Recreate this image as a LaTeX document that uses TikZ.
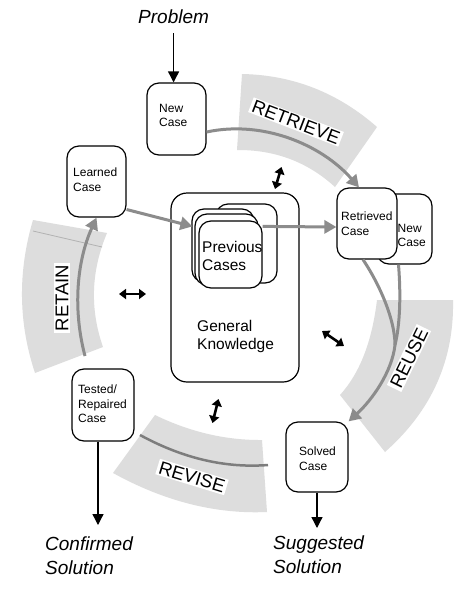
\documentclass[tikz,border=0pt]{standalone}
\usepackage{fontspec}
\setmainfont{Liberation Sans}
\usetikzlibrary{arrows.meta,calc}
\definecolor{bandfill}{RGB}{221,221,221}
\definecolor{arrgray}{RGB}{140,140,140}
\definecolor{linegray}{RGB}{125,125,125}
\begin{document}
\begin{tikzpicture}[x=1pt,y=-1pt,
  box/.style={draw=black,line width=1.2pt,rounded corners=12pt,fill=white,inner sep=0pt},
  smalltxt/.style={font=\fontsize{12}{14.5}\selectfont,align=left,inner sep=0pt,anchor=north west},
  midtxt/.style={font=\fontsize{15.5}{17.5}\selectfont,align=left,inner sep=0pt,anchor=north west},
  bigtxt/.style={font=\fontsize{19}{24}\selectfont\itshape,align=left,inner sep=0pt,anchor=north west},
  bandlbl/.style={fill=white,inner xsep=2pt,inner ysep=1.5pt,font=\fontsize{18.5}{20}\selectfont},
  grayarr/.style={draw=arrgray,line width=3pt,-{Triangle[width=13pt,length=12pt]}},
  grayline/.style={draw=arrgray,line width=3pt},
  blackarr/.style={draw=black,line width=1.3pt,-{Triangle[width=11pt,length=11pt]}},
  dblarr/.style={draw=black,line width=2.6pt,{Triangle[width=10pt,length=7pt]}-{Triangle[width=10pt,length=7pt]}}]
\useasboundingbox[fill=white] (0,0) rectangle (474,590);

% phase bands
\fill[bandfill] (242,74) .. controls (293,75) and (338,92.7) .. (377,127) -- (335,187) .. controls (307.7,162) and (275,149.7) .. (237,150) -- cycle;
\fill[bandfill] (453,300) .. controls (454.3,360) and (431.7,410.7) .. (385,452) -- (340,395) .. controls (359.7,373.3) and (372,341.7) .. (377,300) -- cycle;
\fill[bandfill] (155,415) .. controls (190,432) and (225.7,440.3) .. (262,440) -- (267,512) .. controls (215.7,514.3) and (164.3,501.3) .. (113,473) -- cycle;
\fill[bandfill] (33,220) .. controls (17.7,271.7) and (18.3,322.7) .. (35,373) -- (103,347) .. controls (89.7,309) and (91,271) .. (107,233) -- cycle;
\draw[gray!60,line width=0.8pt] (33,231) -- (102,247);
\draw[linegray,line width=2.5pt] (140,435) .. controls (182.7,458.3) and (225.3,468.3) .. (268,465);

% knowledge box with case base
\node[box,minimum width=128pt,minimum height=189pt,rounded corners=16pt] (knowledge) at (235,287.5) {};
\node[box,minimum width=61pt,minimum height=79pt] (prevback) at (246.5,243.5) {};
\node[box,minimum width=62pt,minimum height=73pt] (prevmidA) at (223,245.5) {};
\node[box,minimum width=63pt,minimum height=71pt] (prevmidB) at (226.5,249.5) {};
\node[box,minimum width=63pt,minimum height=67pt] (prev) at (230.5,254.5) {};
\node[midtxt] (prevtext) at (202,241.3) {Previous\\Cases};
\node[midtxt] (gktext) at (197,320.3) {General\\Knowledge};

% case boxes
\node[box,minimum width=59pt,minimum height=72pt] (newcase) at (176.5,119) {};
\node[smalltxt] (newcasetext) at (159,103.6) {New\\Case};
\node[box,minimum width=59pt,minimum height=71pt] (learned) at (96.5,181.5) {};
\node[smalltxt] (learnedtext) at (73,167.6) {Learned\\Case};
\node[box,minimum width=62pt,minimum height=72pt] (tested) at (103,405) {};
\node[smalltxt] (testedtext) at (78,384.6) {Tested/\\Repaired\\Case};
\node[box,minimum width=62pt,minimum height=70pt] (solved) at (317,457) {};
\node[smalltxt] (solvedtext) at (299,446.6) {Solved\\Case};
\node[box,minimum width=55pt,minimum height=70pt] (newcase2) at (404.5,229) {};
\node[smalltxt] (newcase2text) at (397.5,223.6) {New\\Case};
\node[box,minimum width=60pt,minimum height=71pt] (retrieved) at (367,223.5) {};
\node[smalltxt] (retrievedtext) at (341,211.6) {Retrieved\\Case};

% outer texts
\node[bigtxt] (problem) at (138,10) {Problem};
\node[bigtxt] (confirmed) at (45,537) {Confirmed\\Solution};
\node[bigtxt] (suggested) at (273,536) {Suggested\\Solution};

% named free ends
\coordinate (retainstart) at (85,356);
\coordinate (reusemerge) at (395,345);
\coordinate (confirmtip) at (98,525);
\coordinate (suggesttip) at (317,528);
\coordinate (dA1) at (281.5,167); \coordinate (dA2) at (275,189);
\coordinate (dB1) at (119,294); \coordinate (dB2) at (146,294);
\coordinate (dC1) at (322,331); \coordinate (dC2) at (344,346);
\coordinate (dD1) at (218.5,399); \coordinate (dD2) at (212.5,423);

% gray cycle arrows
\draw[grayarr] ($(newcase.east)+(0,13)$) .. controls (262,120) and (321,144) .. ($(retrieved.north)+(-8,0)$);
\draw[grayarr] ($(learned.east)+(0,28)$) -- ($(prev.north west)+(-6,6)$);
\draw[grayarr] ($(prev.north east)+(0,6)$) -- ($(retrieved.west)+(0,3.5)$);
\draw[grayline] ($(newcase2.south)+(-6,0)$) .. controls (401,295) and (400,325) .. (reusemerge);
\draw[grayarr] ($(retrieved.south)+(-4,0)$) .. controls (380,285) and (395,320) .. (reusemerge) .. controls (392,372) and (372,400) .. (solved.north east);
\draw[grayarr] (retainstart) .. controls (72.7,309.5) and (76.7,261.4) .. (learned.south);

% black arrows
\draw[blackarr] ($(problem.south)+(0,9)$) -- (problem.south |- newcase.north);
\draw[blackarr] (tested.south -| confirmtip) -- (confirmtip);
\draw[blackarr] (solved.south) -- (suggesttip);
\draw[dblarr] (dA1) -- (dA2);
\draw[dblarr] (dB1) -- (dB2);
\draw[dblarr] (dC1) -- (dC2);
\draw[dblarr] (dD1) -- (dD2);

% phase labels
\node[bandlbl,rotate=-21] (lblretrieve) at (296,122) {RETRIEVE};
\node[bandlbl,rotate=64] (lblreuse) at (409,358) {REUSE};
\node[bandlbl,rotate=-17] (lblrevise) at (192,477) {REVISE};
\node[bandlbl,rotate=90] (lblretain) at (62,298) {RETAIN};
\end{tikzpicture}
\end{document}
